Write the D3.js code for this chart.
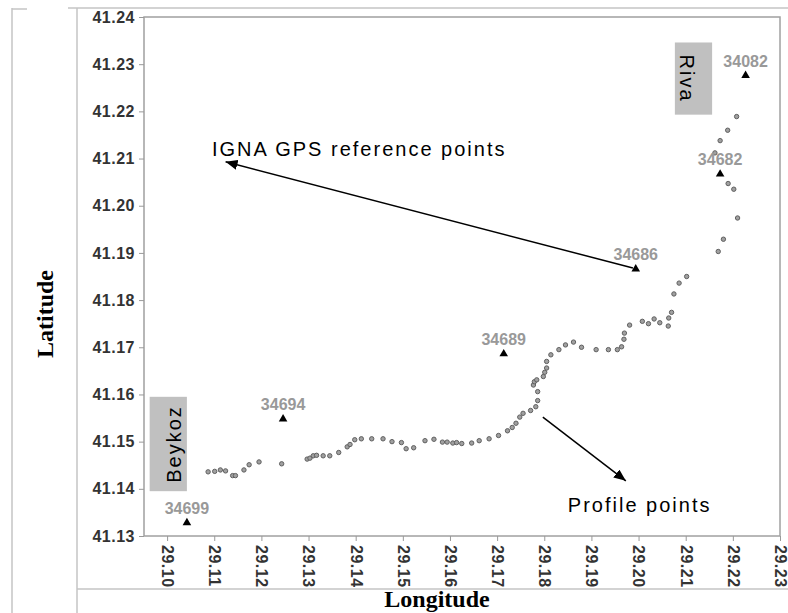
<!DOCTYPE html>
<html>
<head>
<meta charset="utf-8">
<style>
  body { margin: 0; background: #fff; }
  .tick text { font-family: "Liberation Sans", Arial, sans-serif; font-weight: bold; font-size: 16px; fill: #333; letter-spacing: 0.5px; }
  .axis path, .axis line { stroke: #999; }
  .axtitle { font-family: "Liberation Serif", "Times New Roman", serif; font-weight: bold; font-size: 24px; fill: #000; }
  .note { font-family: "Liberation Sans", Arial, sans-serif; font-size: 20px; letter-spacing: 2px; fill: #000; }
  .reflabel { font-family: "Liberation Sans", Arial, sans-serif; font-weight: bold; font-size: 16px; fill: #999; }
  .place { font-family: "Liberation Sans", Arial, sans-serif; font-size: 20px; letter-spacing: 2px; fill: #000; }
</style>
<script src="https://cdnjs.cloudflare.com/ajax/libs/d3/7.8.5/d3.min.js"></script>
</head>
<body>
<svg width="788" height="613"></svg>
<script>
// profile points along the coast (longitude, latitude)
var profileLon = [29.1087,29.1101,29.1113,29.1124,29.1139,29.1145,29.1163,29.1174,29.1195,29.1243,
  29.1297,29.1303,29.1310,29.1317,29.1331,29.1345,29.1364,29.1382,29.1388,29.1398,
  29.1412,29.1434,29.1458,29.1477,29.1497,29.1507,29.1523,29.1547,29.1566,29.1584,
  29.1594,29.1606,29.1614,29.1625,29.1646,29.1662,29.1683,29.1703,29.1722,29.1732,
  29.1740,29.1748,29.1755,29.1771,29.1782,29.1786,29.1786,29.1777,29.1779,29.1784,
  29.1798,29.1801,29.1805,29.1805,29.1814,29.1831,29.1845,29.1862,29.1879,29.1910,
  29.1936,29.1955,29.1964,29.1969,29.1970,29.1981,29.2008,29.2021,29.2033,29.2045,
  29.2063,29.2064,29.2070,29.2075,29.2086,29.2102,29.2169,29.2180,29.2210,29.2202,
  29.2190,29.2162,29.2173,29.2189,29.2208];
var profileLat = [41.1436,41.1437,41.1440,41.1438,41.1428,41.1428,41.1440,41.1451,41.1457,41.1453,
  41.1463,41.1465,41.1470,41.1471,41.1470,41.1470,41.1477,41.1489,41.1494,41.1504,
  41.1506,41.1506,41.1506,41.1500,41.1498,41.1485,41.1487,41.1502,41.1505,41.1499,
  41.1499,41.1497,41.1498,41.1496,41.1497,41.1502,41.1506,41.1513,41.1523,41.1530,
  41.1539,41.1552,41.1560,41.1566,41.1574,41.1587,41.1606,41.1620,41.1627,41.1631,
  41.1638,41.1647,41.1656,41.1670,41.1684,41.1695,41.1705,41.1711,41.1700,41.1695,
  41.1695,41.1695,41.1701,41.1717,41.1730,41.1747,41.1755,41.1750,41.1760,41.1752,
  41.1745,41.1762,41.1774,41.1813,41.1836,41.1850,41.1903,41.1929,41.1974,41.2035,
  41.2047,41.2112,41.2138,41.2160,41.2189];

// IGNA GPS reference points
var refIds = ["34699","34694","34689","34686","34682","34082"];
var refLon = [29.1042,29.1246,29.1714,29.1994,29.2173,29.2227];
var refLat = [41.1328,41.1548,41.1686,41.1866,41.2067,41.2276];

var xTicks = [29.10,29.11,29.12,29.13,29.14,29.15,29.16,29.17,29.18,29.19,29.20,29.21,29.22,29.23];
var yTicks = [41.13,41.14,41.15,41.16,41.17,41.18,41.19,41.20,41.21,41.22,41.23,41.24];

var svg = d3.select("svg");
var margin = {left:144, top:17, right:8, bottom:77};
var W = 788, H = 613;

var x = d3.scaleLinear().domain([29.0951, 29.23]).range([margin.left, W - margin.right]);
var y = d3.scaleLinear().domain([41.13, 41.24]).range([H - margin.bottom, margin.top]);

// outer frame lines from the source figure
var frame = svg.append("g").attr("stroke", "#c4c4c4").attr("stroke-width", 1.5).attr("fill", "none");
frame.append("line").attr("x1", 12).attr("x2", 12).attr("y1", 8).attr("y2", H);
frame.append("line").attr("x1", 12).attr("x2", 27).attr("y1", 9).attr("y2", 9);
frame.append("line").attr("x1", 77).attr("x2", 77).attr("y1", 8).attr("y2", H);
frame.append("line").attr("x1", 68).attr("x2", W).attr("y1", 8).attr("y2", 8);
frame.append("line").attr("x1", 77).attr("x2", W).attr("y1", 589).attr("y2", 589);

// plot border
svg.append("rect")
  .attr("x", x.range()[0]).attr("y", y.range()[1])
  .attr("width", x.range()[1] - x.range()[0]).attr("height", y.range()[0] - y.range()[1])
  .attr("fill", "#fff").attr("stroke", "#a0a0a0").attr("stroke-width", 1.5);

// axes
svg.append("g").attr("class", "axis")
  .attr("transform", "translate(" + x.range()[0] + ",0)")
  .call(d3.axisLeft(y).tickValues(yTicks).tickFormat(d3.format(".2f")).tickSize(5).tickPadding(4))
  .call(function(g){ g.select(".domain").remove(); });

var xa = svg.append("g").attr("class", "axis")
  .attr("transform", "translate(0," + y.range()[0] + ")")
  .call(d3.axisBottom(x).tickValues(xTicks).tickFormat(d3.format(".2f")).tickSize(5))
  .call(function(g){ g.select(".domain").remove(); });
xa.selectAll(".tick text")
  .attr("transform", "rotate(90)")
  .attr("x", 9).attr("y", 0).attr("dy", "0.35em")
  .style("text-anchor", "start");

// axis titles
svg.append("text").attr("class", "axtitle")
  .attr("transform", "translate(53,314) rotate(-90)")
  .attr("text-anchor", "middle").text("Latitude");
svg.append("text").attr("class", "axtitle")
  .attr("x", 437).attr("y", 607)
  .attr("text-anchor", "middle").text("Longitude");

// place name boxes
var places = [
  {name:"Riva", lon0:29.2077, lon1:29.2156, lat0:41.2193, lat1:41.2346, rot:90},
  {name:"Beykoz", lon0:29.0963, lon1:29.1042, lat0:41.1395, lat1:41.1595, rot:-90}
];
places.forEach(function(p){
  svg.append("rect")
    .attr("x", x(p.lon0)).attr("y", y(p.lat1))
    .attr("width", x(p.lon1) - x(p.lon0)).attr("height", y(p.lat0) - y(p.lat1))
    .attr("fill", "#c0c0c0");
  var cx = (x(p.lon0) + x(p.lon1)) / 2, cy = (y(p.lat0) + y(p.lat1)) / 2;
  var bx = p.rot > 0 ? cx - 6 : cx + 6;
  svg.append("text").attr("class", "place")
    .attr("transform", "translate(" + bx + "," + cy + ") rotate(" + p.rot + ")")
    .attr("text-anchor", "middle").attr("dy", "0.35em").text(p.name);
});

// profile points
var profile = profileLon.map(function(d, i){ return {lon:d, lat:profileLat[i]}; });
svg.append("g").selectAll("circle")
  .data(profile).enter().append("circle")
  .attr("cx", function(d){ return x(d.lon); })
  .attr("cy", function(d){ return y(d.lat); })
  .attr("r", 2.2)
  .attr("fill", "#a0a0a0").attr("stroke", "#606060").attr("stroke-width", 1);

// reference points
var refs = refIds.map(function(d, i){ return {id:d, lon:refLon[i], lat:refLat[i]}; });
var rg = svg.append("g").selectAll("g").data(refs).enter().append("g")
  .attr("transform", function(d){ return "translate(" + x(d.lon) + "," + y(d.lat) + ")"; });
rg.append("path").attr("d", d3.symbol().type(d3.symbolTriangle).size(32)).attr("fill", "#000");
rg.append("text").attr("class", "reflabel")
  .attr("y", -9).attr("text-anchor", "middle").text(function(d){ return d.id; });

// annotation arrows
svg.append("defs").append("marker")
  .attr("id", "ah").attr("viewBox", "0 0 12 10").attr("refX", 12).attr("refY", 5)
  .attr("markerWidth", 12).attr("markerHeight", 10).attr("markerUnits", "userSpaceOnUse")
  .attr("orient", "auto")
  .append("path").attr("d", "M0,0L12,5L0,10Z").attr("fill", "#000");

var arrows = [
  {lon0:29.1988, lat0:41.1868, lon1:29.1124, lat1:41.2093},
  {lon0:29.1797, lat0:41.1552, lon1:29.1973, lat1:41.1417}
];
svg.append("g").selectAll("line").data(arrows).enter().append("line")
  .attr("x1", function(d){ return x(d.lon0); }).attr("y1", function(d){ return y(d.lat0); })
  .attr("x2", function(d){ return x(d.lon1); }).attr("y2", function(d){ return y(d.lat1); })
  .attr("stroke", "#000").attr("stroke-width", 1.5).attr("marker-end", "url(#ah)");

var notes = [
  {text:"IGNA GPS reference points", lon:29.1095, lat:41.2106},
  {text:"Profile points", lon:29.1850, lat:41.1351}
];
svg.append("g").selectAll("text").data(notes).enter().append("text")
  .attr("class", "note")
  .attr("x", function(d){ return x(d.lon); }).attr("y", function(d){ return y(d.lat); })
  .text(function(d){ return d.text; });
</script>
</body>
</html>
